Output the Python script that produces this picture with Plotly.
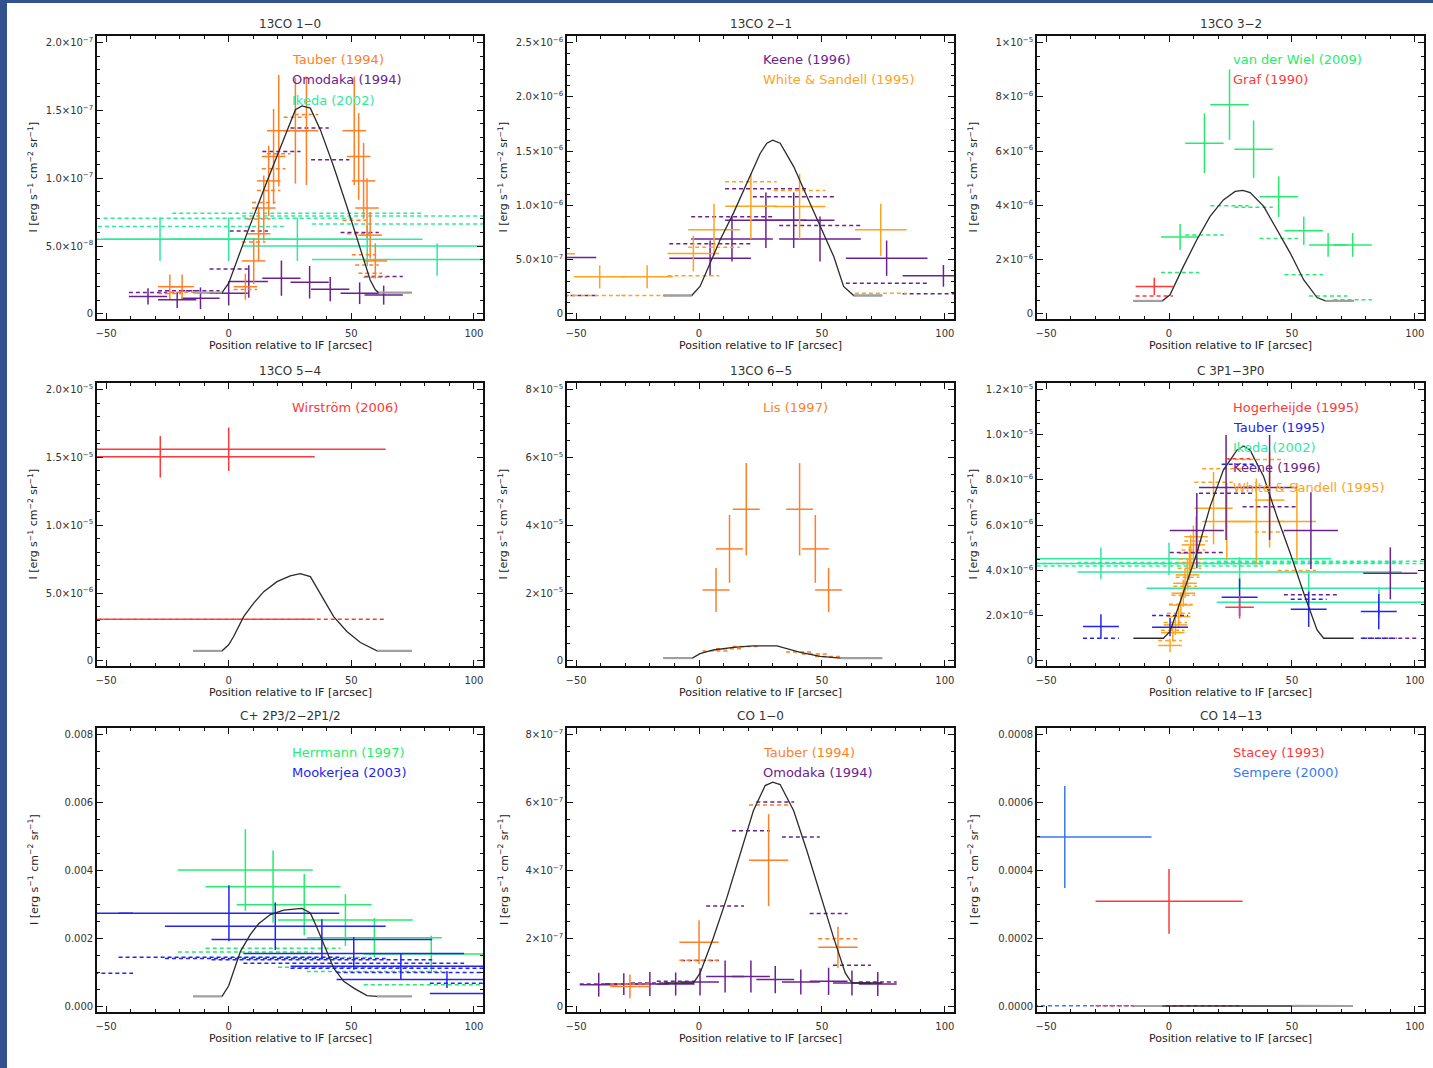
import plotly.graph_objects as go

# ---------------- common axis values ----------------
X_RANGE = [-53.7, 103.7]
X_TICK_VALS = [-50, 0, 50, 100]
X_TICK_TEXT = ["\u221250", "0", "50", "100"]

def S(m, e):
    return f"{m}\u00d710<sup>\u2212{e}</sup>"

# ---------------- Panel 1: 13CO 1-0 (units 1e-8) ----------------
p1_title = "13CO 1\u22120"
p1_yticks = [0, 5, 10, 15, 20]
p1_yticktext = ["0", S("5.0", 8), S("1.0", 7), S("1.5", 7), S("2.0", 7)]
p1_model_x = [-14.5, -2.7, 0, 7.5, 15.6, 23.8, 27.2, 29.9, 33.3, 37.4, 42.8, 48.2, 53.7, 57.7, 59.8, 61.1, 74.7]
p1_model_y = [1.57, 1.57, 2.26, 5.95, 9.75, 13.56, 15.04, 15.33, 15.16, 13.56, 10.86, 7.91, 4.72, 2.5, 1.77, 1.57, 1.57]
p1_ikeda_x = [-28, 0, 28, 56.5, 85]
p1_ikeda_y = [5.5, 5.5, 5.5, 5.0, 4.0]
p1_ikeda_xerr = [51, 51, 51, 51, 51]
p1_ikeda_yerr = [1.6, 1.6, 1.6, 1.5, 1.2]
p1_ikeda_conv = [6.44, 7.05, 7.42, 7.22, 6.63]
p1_omodaka_x = [-32.9, -21.0, -11.5, 0.0, 8.2, 21.5, 33.0, 41.4, 53.4, 63.2]
p1_omodaka_y = [1.28, 1.03, 1.15, 1.52, 2.38, 2.63, 2.33, 1.82, 1.52, 1.38]
p1_omodaka_xerr = [7.8] * 10
p1_omodaka_yerr = [0.6, 0.6, 0.8, 0.9, 1.2, 1.3, 1.2, 0.9, 0.8, 0.7]
p1_omodaka_conv = [1.57, 1.7, 1.7, 3.3, 6.1, 11.96, 13.7, 11.35, 6.0, 2.75]
p1_tauber_x = [-24, -19, 6.8, 10.2, 12.2, 14.3, 16.3, 18.3, 20.4, 27.2, 31.7, 51.2, 53.0, 55.0, 56.4, 57.7, 59.8]
p1_tauber_y = [2.0, 2.0, 2.0, 3.9, 5.9, 7.8, 9.8, 11.6, 13.5, 13.5, 13.5, 13.5, 11.6, 9.8, 7.8, 5.8, 3.9]
p1_tauber_xerr = [4.8] * 17
p1_tauber_yerr = [0.9, 0.9, 0.96, 1.7, 2.0, 2.4, 2.6, 3.5, 4.1, 3.9, 4.0, 4.0, 3.2, 2.8, 2.2, 1.7, 1.3]
p1_tauber_conv = [1.5, 1.6, 1.8, 5.3, 7.0, 8.2, 9.1, 10.7, 11.8, 14.5, 14.7, 6.9, 5.9, 4.35, 3.6, 3.0, 2.7]

# ---------------- Panel 2: 13CO 2-1 (units 1e-6) ----------------
p2_title = "13CO 2\u22121"
p2_yticks = [0, 0.5, 1.0, 1.5, 2.0, 2.5]
p2_yticktext = ["0", S("5.0", 7), S("1.0", 6), S("1.5", 6), S("2.0", 6), S("2.5", 6)]
p2_model_x = [-14.5, -3.0, 0.4, 4.5, 8.6, 14.0, 19.4, 24.9, 27.6, 30.0, 33.0, 38.5, 43.9, 49.3, 54.8, 58.8, 62.9, 74.5]
p2_model_y = [0.169, 0.169, 0.252, 0.467, 0.682, 0.928, 1.204, 1.48, 1.572, 1.60, 1.572, 1.357, 1.081, 0.805, 0.528, 0.252, 0.169, 0.169]
p2_keene_x = [-58.4, 4.5, 13.4, 27.2, 38.5, 49.2, 76.3, 99.4]
p2_keene_y = [0.519, 0.513, 0.69, 0.863, 0.863, 0.69, 0.513, 0.35]
p2_keene_xerr = [16.6] * 8
p2_keene_yerr = [0.16, 0.163, 0.207, 0.256, 0.256, 0.207, 0.163, 0.1]
p2_keene_conv = [0.169, 0.645, 0.894, 1.152, 1.08, 0.814, 0.283, 0.184]
p2_ws_x = [-61, -40.4, -21.1, -2.3, 6.1, 21.1, 40.9, 73.9]
p2_ws_y = [0.553, 0.341, 0.341, 0.556, 0.774, 0.992, 0.99, 0.774]
p2_ws_xerr = [10.5] * 8
p2_ws_yerr = [0.16, 0.106, 0.106, 0.164, 0.24, 0.30, 0.30, 0.24]
p2_ws_conv = [0.169, 0.169, 0.169, 0.35, 0.614, 1.216, 1.136, 0.19]

# ---------------- Panel 3: 13CO 3-2 (units 1e-6) ----------------
p3_title = "13CO 3\u22122"
p3_yticks = [0, 2, 4, 6, 8, 10]
p3_yticktext = ["0", S("2", 6), S("4", 6), S("6", 6), S("8", 6), S("1", 5)]
p3_model_x = [-14.5, -2.7, 0.4, 5.8, 11.3, 16.7, 22.1, 26.9, 30.0, 33.0, 38.5, 43.9, 49.3, 54.8, 60.2, 63.6, 75.1]
p3_model_y = [0.48, 0.48, 0.70, 1.74, 2.73, 3.59, 4.20, 4.51, 4.55, 4.47, 3.96, 3.10, 2.24, 1.25, 0.60, 0.48, 0.48]
p3_vdw_x = [4.5, 14.4, 24.6, 34.4, 44.6, 54.8, 64.7, 74.7]
p3_vdw_y = [2.83, 6.29, 7.71, 6.07, 4.32, 3.06, 2.54, 2.54]
p3_vdw_xerr = [7.8] * 8
p3_vdw_yerr = [0.48, 1.1, 1.3, 1.06, 0.75, 0.52, 0.44, 0.44]
p3_vdw_conv = [1.52, 2.91, 3.98, 3.93, 2.78, 1.44, 0.66, 0.52]
p3_graf_x = [-6]
p3_graf_y = [1.01]
p3_graf_xerr = [7.6]
p3_graf_yerr = [0.32]
p3_graf_conv = [0.66]

# ---------------- Panel 4: 13CO 5-4 (units 1e-6) ----------------
p4_title = "13CO 5\u22124"
p4_yticks = [0, 5, 10, 15, 20]
p4_yticktext = ["0", S("5.0", 6), S("1.0", 5), S("1.5", 5), S("2.0", 5)]
p4_model_x = [-14.5, -2.7, 0, 2.0, 6.1, 10.2, 14.3, 19.7, 25.1, 29.2, 33.3, 37.4, 42.8, 48.2, 53.7, 60.5, 74.6]
p4_model_y = [0.74, 0.74, 1.18, 1.79, 3.26, 4.25, 5.1, 5.84, 6.26, 6.43, 6.21, 4.98, 3.26, 2.16, 1.35, 0.74, 0.74]
p4_wirstrom_x = [-27.9, 0]
p4_wirstrom_y = [15.04, 15.6]
p4_wirstrom_xerr = [63, 64]
p4_wirstrom_yerr = [1.53, 1.6]
p4_wirstrom_conv = [3.07, 3.07]

# ---------------- Panel 5: 13CO 6-5 (units 1e-5) ----------------
p5_title = "13CO 6\u22125"
p5_yticks = [0, 2, 4, 6, 8]
p5_yticktext = ["0", S("2", 5), S("4", 5), S("6", 5), S("8", 5)]
p5_model_x = [-14.5, -2.7, 0.4, 5.8, 14, 22.1, 31.7, 35.7, 41.2, 49.3, 57.5, 74.5]
p5_model_y = [0.08, 0.08, 0.21, 0.32, 0.40, 0.44, 0.44, 0.36, 0.25, 0.13, 0.08, 0.08]
p5_lis_x = [6.9, 12.4, 19.2, 40.9, 47.3, 52.7]
p5_lis_y = [2.09, 3.30, 4.47, 4.47, 3.30, 2.09]
p5_lis_xerr = [5.5] * 6
p5_lis_yerr = [0.65, 1.0, 1.36, 1.36, 1.0, 0.65]
p5_lis_conv = [0.29, 0.36, 0.42, 0.26, 0.20, 0.13]

# ---------------- Panel 6: C 3P1-3P0 (units 1e-6) ----------------
p6_title = "C 3P1\u22123P0"
p6_yticks = [0, 2, 4, 6, 8, 10, 12]
p6_yticktext = ["0", S("2.0", 6), S("4.0", 6), S("6.0", 6), S("8.0", 6), S("1.0", 5), S("1.2", 5)]
p6_model_x = [-14.5, -2.3, 0.4, 5.8, 11.3, 16.7, 22.1, 27.6, 30.3, 33.0, 38.5, 43.9, 49.3, 54.8, 60.2, 62.9, 75.1]
p6_model_y = [1.0, 1.0, 1.30, 2.99, 4.76, 6.82, 8.44, 9.32, 9.5, 9.32, 8.14, 6.38, 4.76, 2.99, 1.37, 1.0, 1.0]
p6_ikeda_x = [-27.7, 0, 28.7, 56.8, 85.4]
p6_ikeda_y = [4.31, 4.51, 3.93, 3.21, 2.59]
p6_ikeda_xerr = [66] * 5
p6_ikeda_yerr = [0.7, 0.71, 0.66, 0.66, 0.66]
p6_ikeda_conv = [4.2, 4.3, 4.35, 4.3, 4.4]
p6_ws_x = [0.4, 1.5, 2.6, 3.9, 4.8, 5.8, 6.5, 7.5, 8.3, 8.8, 9.9, 11.0, 18.1, 23.5, 35.5, 40.9, 52.0]
p6_ws_y = [0.68, 1.25, 1.59, 1.96, 2.47, 2.99, 3.43, 3.8, 4.32, 4.76, 5.13, 5.49, 6.75, 6.16, 6.16, 7.11, 6.16]
p6_ws_xerr = [4.8] * 12 + [7.8, 10, 11.5, 6, 7.8]
p6_ws_yerr = [0.3, 0.4, 0.45, 0.5, 0.55, 0.6, 0.65, 0.7, 0.75, 0.8, 0.85, 0.9, 1.6, 1.7, 1.9, 2.1, 1.7]
p6_ws_conv = [0.9, 1.35, 1.7, 2.1, 2.5, 2.9, 3.3, 3.7, 4.1, 4.5, 4.9, 5.3, 7.9, 8.5, 8.9, 5.7, 4.0]
p6_keene_x = [11.3, 23.2, 40.9, 57.7, 90.0]
p6_keene_y = [5.76, 7.67, 7.67, 5.76, 3.87]
p6_keene_xerr = [11] * 5
p6_keene_yerr = [1.66, 2.32, 2.32, 1.7, 1.15]
p6_keene_conv = [4.79, 7.41, 6.82, 2.92, 1.0]
p6_tauber_x = [-27.7, 0.4, 28.7, 56.8, 85.3]
p6_tauber_y = [1.52, 1.49, 2.81, 2.28, 2.18]
p6_tauber_xerr = [7.3] * 5
p6_tauber_yerr = [0.54, 0.4, 0.83, 0.78, 0.78]
p6_tauber_conv = [1.0, 2.0, 8.7, 2.72, 1.0]
p6_hog_x = [28.7]
p6_hog_y = [2.37]
p6_hog_xerr = [5.8]
p6_hog_yerr = [0.5]
p6_hog_conv = [8.94]

# ---------------- Panel 7: C+ 2P3/2-2P1/2 (units 1e-3) ----------------
p7_title = "C+ 2P3/2\u22122P1/2"
p7_yticks = [0, 2, 4, 6, 8]
p7_yticktext = ["0.000", "0.002", "0.004", "0.006", "0.008"]
p7_model_x = [-14.5, -2.7, 0, 2.0, 4.8, 8.8, 12.2, 17, 22.4, 29.9, 33.3, 36.0, 38.7, 42.8, 46.9, 51, 56.4, 60.5, 74.7]
p7_model_y = [0.305, 0.305, 0.62, 1.04, 1.63, 2.12, 2.44, 2.71, 2.84, 2.89, 2.76, 2.32, 1.83, 1.14, 0.75, 0.55, 0.33, 0.305, 0.305]
p7_herrmann_x = [6.8, 18.1, 30.8, 47.6, 59.4, 82.6]
p7_herrmann_y = [4.02, 3.53, 3.0, 2.55, 2.03, 1.55]
p7_herrmann_xerr = [27.5] * 6
p7_herrmann_yerr = [1.2, 1.06, 0.9, 0.76, 0.58, 0.54]
p7_herrmann_conv = [1.61, 1.72, 1.45, 1.16, 1.04, 0.65]
p7_mookerjea_x = [-84, 0.1, 19, 38, 51, 70.2, 89, 127]
p7_mookerjea_y = [2.75, 2.75, 2.37, 1.98, 1.57, 1.19, 0.80, 0.39]
p7_mookerjea_xerr = [45] * 8
p7_mookerjea_yerr = [0.8, 0.82, 0.7, 0.59, 0.48, 0.39, 0.25, 0.2]
p7_mookerjea_conv = [0.99, 1.46, 1.42, 1.38, 1.28, 1.13, 1.01, 0.69]

# ---------------- Panel 8: CO 1-0 (units 1e-7) ----------------
p8_title = "CO 1\u22120"
p8_yticks = [0, 2, 4, 6, 8]
p8_yticktext = ["0", S("2", 7), S("4", 7), S("6", 7), S("8", 7)]
p8_model_x = [-14.5, -2.3, 0.4, 5.8, 11.3, 16.7, 22.1, 26.9, 30, 33, 38.5, 43.9, 49.3, 54.8, 59.5, 62.2, 74.5]
p8_model_y = [0.70, 0.70, 0.99, 2.02, 3.2, 4.48, 5.76, 6.5, 6.6, 6.53, 5.76, 4.58, 3.30, 2.02, 0.99, 0.70, 0.70]
p8_omodaka_x = [-40.8, -30.6, -20, -9.5, 0.4, 10.6, 21.1, 31, 41.4, 52.7, 62.2, 72.7]
p8_omodaka_y = [0.65, 0.67, 0.67, 0.67, 0.73, 0.89, 0.89, 0.80, 0.73, 0.75, 0.70, 0.67]
p8_omodaka_xerr = [7.7] * 12
p8_omodaka_yerr = [0.35, 0.32, 0.35, 0.34, 0.40, 0.47, 0.47, 0.40, 0.37, 0.40, 0.37, 0.35]
p8_omodaka_conv = [0.67, 0.67, 0.70, 0.75, 1.36, 2.96, 5.17, 6.02, 4.99, 2.74, 1.22, 0.73]
p8_tauber_x = [-28.1, 0, 28.3, 56.5]
p8_tauber_y = [0.60, 1.90, 4.31, 1.75]
p8_tauber_xerr = [8.0] * 4
p8_tauber_yerr = [0.35, 0.64, 1.35, 0.6]
p8_tauber_conv = [0.67, 1.37, 5.93, 2.0]

# ---------------- Panel 9: CO 14-13 (units 1e-4) ----------------
p9_title = "CO 14\u221213"
p9_yticks = [0, 2, 4, 6, 8]
p9_yticktext = ["0.0000", "0.0002", "0.0004", "0.0006", "0.0008"]
p9_model_x = [-14.5, -2.7, 10, 25, 30, 35, 50, 74.7]
p9_model_y = [0.025, 0.025, 0.03, 0.04, 0.045, 0.04, 0.03, 0.025]
p9_sempere_x = [-42.4]
p9_sempere_y = [4.99]
p9_sempere_xerr = [35.3]
p9_sempere_yerr = [1.5]
p9_sempere_conv = [0.03]
p9_stacey_x = [0]
p9_stacey_y = [3.1]
p9_stacey_xerr = [29.9]
p9_stacey_yerr = [0.95]
p9_stacey_conv = [0.03]

# ---------------- colours ----------------
C_ORANGE = "#ff7f27"
C_WS = "#ffa21c"
C_PURPLE = "#6b2290"
C_MINT = "#2fe99c"
C_GREEN = "#25ec6e"
C_RED = "#ff3838"
C_BLUE = "#2424f0"
C_LBLUE = "#3a78f2"
C_MODEL = "#2a2a2a"
C_GREY = "#a0a0a0"

panels = [
    dict(title=p1_title, top=20, minor=1, yt=p1_yticks, ytt=p1_yticktext,
         mx=p1_model_x, my=p1_model_y, grey_ends=True,
         series=[("Ikeda (2002)", C_MINT, p1_ikeda_x, p1_ikeda_y, p1_ikeda_xerr, p1_ikeda_yerr, p1_ikeda_conv),
                 ("Omodaka (1994)", C_PURPLE, p1_omodaka_x, p1_omodaka_y, p1_omodaka_xerr, p1_omodaka_yerr, p1_omodaka_conv),
                 ("Tauber (1994)", C_ORANGE, p1_tauber_x, p1_tauber_y, p1_tauber_xerr, p1_tauber_yerr, p1_tauber_conv)],
         legend=[("Tauber (1994)", C_ORANGE), ("Omodaka (1994)", C_PURPLE), ("Ikeda (2002)", C_MINT)]),
    dict(title=p2_title, top=2.5, minor=0.1, yt=p2_yticks, ytt=p2_yticktext,
         mx=p2_model_x, my=p2_model_y, grey_ends=True,
         series=[("Keene (1996)", C_PURPLE, p2_keene_x, p2_keene_y, p2_keene_xerr, p2_keene_yerr, p2_keene_conv),
                 ("White & Sandell (1995)", C_WS, p2_ws_x, p2_ws_y, p2_ws_xerr, p2_ws_yerr, p2_ws_conv)],
         legend=[("Keene (1996)", C_PURPLE), ("White &amp; Sandell (1995)", C_WS)]),
    dict(title=p3_title, top=10, minor=0.5, yt=p3_yticks, ytt=p3_yticktext,
         mx=p3_model_x, my=p3_model_y, grey_ends=True,
         series=[("van der Wiel (2009)", C_GREEN, p3_vdw_x, p3_vdw_y, p3_vdw_xerr, p3_vdw_yerr, p3_vdw_conv),
                 ("Graf (1990)", C_RED, p3_graf_x, p3_graf_y, p3_graf_xerr, p3_graf_yerr, p3_graf_conv)],
         legend=[("van der Wiel (2009)", C_GREEN), ("Graf (1990)", C_RED)]),
    dict(title=p4_title, top=20, minor=1, yt=p4_yticks, ytt=p4_yticktext,
         mx=p4_model_x, my=p4_model_y, grey_ends=True,
         series=[("Wirstr\u00f6m (2006)", C_RED, p4_wirstrom_x, p4_wirstrom_y, p4_wirstrom_xerr, p4_wirstrom_yerr, p4_wirstrom_conv)],
         legend=[("Wirstr\u00f6m (2006)", C_RED)]),
    dict(title=p5_title, top=8, minor=0.5, yt=p5_yticks, ytt=p5_yticktext,
         mx=p5_model_x, my=p5_model_y, grey_ends=True,
         series=[("Lis (1997)", C_ORANGE, p5_lis_x, p5_lis_y, p5_lis_xerr, p5_lis_yerr, p5_lis_conv)],
         legend=[("Lis (1997)", C_ORANGE)]),
    dict(title=p6_title, top=12, minor=0.5, yt=p6_yticks, ytt=p6_yticktext,
         mx=p6_model_x, my=p6_model_y, grey_ends=False,
         series=[("Ikeda (2002)", C_MINT, p6_ikeda_x, p6_ikeda_y, p6_ikeda_xerr, p6_ikeda_yerr, p6_ikeda_conv),
                 ("White & Sandell (1995)", C_WS, p6_ws_x, p6_ws_y, p6_ws_xerr, p6_ws_yerr, p6_ws_conv),
                 ("Keene (1996)", C_PURPLE, p6_keene_x, p6_keene_y, p6_keene_xerr, p6_keene_yerr, p6_keene_conv),
                 ("Tauber (1995)", C_BLUE, p6_tauber_x, p6_tauber_y, p6_tauber_xerr, p6_tauber_yerr, p6_tauber_conv),
                 ("Hogerheijde (1995)", C_RED, p6_hog_x, p6_hog_y, p6_hog_xerr, p6_hog_yerr, p6_hog_conv)],
         legend=[("Hogerheijde (1995)", C_RED), ("Tauber (1995)", C_BLUE), ("Ikeda (2002)", C_MINT),
                 ("Keene (1996)", C_PURPLE), ("White &amp; Sandell (1995)", C_WS)]),
    dict(title=p7_title, top=8, minor=0.5, yt=p7_yticks, ytt=p7_yticktext,
         mx=p7_model_x, my=p7_model_y, grey_ends=True,
         series=[("Herrmann (1997)", C_GREEN, p7_herrmann_x, p7_herrmann_y, p7_herrmann_xerr, p7_herrmann_yerr, p7_herrmann_conv),
                 ("Mookerjea (2003)", C_BLUE, p7_mookerjea_x, p7_mookerjea_y, p7_mookerjea_xerr, p7_mookerjea_yerr, p7_mookerjea_conv)],
         legend=[("Herrmann (1997)", C_GREEN), ("Mookerjea (2003)", C_BLUE)]),
    dict(title=p8_title, top=8, minor=0.5, yt=p8_yticks, ytt=p8_yticktext,
         mx=p8_model_x, my=p8_model_y, grey_ends=False,
         series=[("Omodaka (1994)", C_PURPLE, p8_omodaka_x, p8_omodaka_y, p8_omodaka_xerr, p8_omodaka_yerr, p8_omodaka_conv),
                 ("Tauber (1994)", C_ORANGE, p8_tauber_x, p8_tauber_y, p8_tauber_xerr, p8_tauber_yerr, p8_tauber_conv)],
         legend=[("Tauber (1994)", C_ORANGE), ("Omodaka (1994)", C_PURPLE)]),
    dict(title=p9_title, top=8, minor=0.5, yt=p9_yticks, ytt=p9_yticktext,
         mx=p9_model_x, my=p9_model_y, grey_ends=True,
         series=[("Sempere (2000)", C_LBLUE, p9_sempere_x, p9_sempere_y, p9_sempere_xerr, p9_sempere_yerr, p9_sempere_conv),
                 ("Stacey (1993)", C_RED, p9_stacey_x, p9_stacey_y, p9_stacey_xerr, p9_stacey_yerr, p9_stacey_conv)],
         legend=[("Stacey (1993)", C_RED), ("Sempere (2000)", C_LBLUE)]),
]

# ---------------- layout geometry (pixels) ----------------
W, H = 1433, 1068
COL_PX = [(97, 483), (567, 954), (1037, 1424)]
ROW_PX = [(36, 319), (383, 666), (728, 1012)]
FONT = "DejaVu Sans, Verdana, sans-serif"

fig = go.Figure()
annotations = []
layout_axes = {}

for i, p in enumerate(panels):
    n = i + 1
    r, c = divmod(i, 3)
    xa = "x" if n == 1 else f"x{n}"
    ya = "y" if n == 1 else f"y{n}"
    x0, x1 = COL_PX[c]
    y0, y1 = ROW_PX[r]
    top = p["top"]
    yr = [-0.019 * top, 1.024 * top]

    axis_common = dict(showline=True, linecolor="#111", linewidth=1.6, mirror="allticks",
                       ticks="inside", ticklen=6, tickwidth=1.2, tickcolor="#111",
                       showgrid=False, zeroline=False,
                       tickfont=dict(family=FONT, size=10, color="#333"))
    layout_axes["xaxis" if n == 1 else f"xaxis{n}"] = dict(
        axis_common, domain=[x0 / W, x1 / W], range=X_RANGE, anchor=ya,
        tickmode="array", tickvals=X_TICK_VALS, ticktext=X_TICK_TEXT, ticklabelstandoff=4,
        minor=dict(ticks="inside", ticklen=3, tickcolor="#111", tickwidth=1, dtick=10, tick0=0, showgrid=False))
    layout_axes["yaxis" if n == 1 else f"yaxis{n}"] = dict(
        axis_common, domain=[1 - y1 / H, 1 - y0 / H], range=yr, anchor=xa,
        tickmode="array", tickvals=p["yt"], ticktext=p["ytt"],
        minor=dict(ticks="inside", ticklen=3, tickcolor="#111", tickwidth=1, dtick=p["minor"], tick0=0, showgrid=False))

    # data series: convolved model (dashed) then crosses
    for name, col, xs, ys, xe, ye, conv in p["series"]:
        sx, sy = [], []
        for xv, e, v in zip(xs, xe, conv):
            sx += [xv - e, xv + e, None]
            sy += [v, v, None]
        fig.add_trace(go.Scatter(x=sx, y=sy, mode="lines", xaxis=xa, yaxis=ya,
                                 line=dict(color=col, width=1.5, dash="4px,3px"),
                                 showlegend=False, hoverinfo="skip"))
        fig.add_trace(go.Scatter(x=xs, y=ys, mode="markers", xaxis=xa, yaxis=ya, name=name,
                                 marker=dict(size=1, color=col),
                                 error_x=dict(type="data", array=xe, visible=True, color=col, thickness=1.5, width=0),
                                 error_y=dict(type="data", array=ye, visible=True, color=col, thickness=1.5, width=0),
                                 showlegend=False))

    # model curve
    fig.add_trace(go.Scatter(x=p["mx"], y=p["my"], mode="lines", xaxis=xa, yaxis=ya,
                             line=dict(color=C_MODEL, width=1.3), showlegend=False, hoverinfo="skip"))
    if p["grey_ends"]:
        for seg in (slice(0, 2), slice(-2, None)):
            fig.add_trace(go.Scatter(x=p["mx"][seg], y=p["my"][seg], mode="lines", xaxis=xa, yaxis=ya,
                                     line=dict(color=C_GREY, width=2), showlegend=False, hoverinfo="skip"))

    xd = "x domain" if n == 1 else f"x{n} domain"
    yd = "y domain" if n == 1 else f"y{n} domain"
    # title
    annotations.append(dict(text=p["title"], xref=xd, yref=yd, x=0.5, y=1, yshift=12,
                            xanchor="center", yanchor="middle", showarrow=False,
                            font=dict(family=FONT, size=12, color="#333")))
    # axis titles
    annotations.append(dict(text="Position relative to IF [arcsec]", xref=xd, yref=yd, x=0.5, y=0, yshift=-26,
                            xanchor="center", yanchor="middle", showarrow=False,
                            font=dict(family=FONT, size=11, color="#222")))
    annotations.append(dict(text="I [erg s<sup>\u22121</sup> cm<sup>\u22122</sup> sr<sup>\u22121</sup>]",
                            xref=xd, yref=yd, x=0, y=0.5, xshift=-64, textangle=-90,
                            xanchor="center", yanchor="middle", showarrow=False,
                            font=dict(family=FONT, size=11, color="#222")))
    # legend text
    lx = (25 - X_RANGE[0]) / (X_RANGE[1] - X_RANGE[0])
    for k, (txt, col) in enumerate(p["legend"]):
        annotations.append(dict(text=txt, xref=xd, yref=yd, x=lx, y=1 - (24 + 20 * k) / (y1 - y0),
                                xanchor="left", yanchor="middle", showarrow=False,
                                font=dict(family=FONT, size=13, color=col)))

fig.update_layout(
    width=W, height=H, margin=dict(l=0, r=0, t=0, b=0),
    paper_bgcolor="#33508f", plot_bgcolor="white",
    shapes=[dict(type="rect", xref="paper", yref="paper", x0=7 / W, x1=1, y0=0, y1=1 - 3 / H,
                 fillcolor="white", line=dict(width=0), layer="below")],
    annotations=annotations,
    showlegend=False,
    **layout_axes,
)

fig.write_html("out.html")
